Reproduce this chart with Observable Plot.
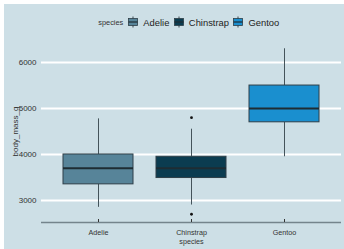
<!DOCTYPE html>
<html>
<head>
<meta charset="utf-8">
<script src="https://cdn.jsdelivr.net/npm/d3@7"></script>
<script src="https://cdn.jsdelivr.net/npm/@observablehq/plot@0.6"></script>
<style>
  html, body { margin: 0; padding: 0; background: #ffffff; }
  body { width: 344px; height: 249px; overflow: hidden; }
  #wrap { position: absolute; left: 4px; top: 4px; width: 340px; height: 245px; background: #cddfe6;
          font-family: "Liberation Sans", Arial, Helvetica, sans-serif; }
  #legend { height: 31px; margin-left: 37px; width: 300px; display: flex; justify-content: center; align-items: center;
            padding-top: 5px; box-sizing: border-box; color: #222; }
  #legend .title { font-size: 7.4px; margin-right: 5px; color: #333; }
  #legend .key { width: 10px; height: 12px; margin-right: 5px; }
  #legend .lab { font-size: 9.4px; margin-right: 4.5px; }
  svg.plot { display: block; }
</style>
</head>
<body>
<div id="wrap">
  <div id="legend"></div>
  <div id="chart"></div>
</div>
<script>
const species   = ["Adelie", "Chinstrap", "Gentoo"];
const q1        = [3350, 3487.5, 4700];
const median    = [3700, 3700, 5000];
const q3        = [4000, 3950, 5500];
const whiskLo   = [2850, 2900, 3950];
const whiskHi   = [4775, 4550, 6300];
const outlierSpecies = ["Chinstrap", "Chinstrap"];
const outlierValues  = [4800, 2700];
const yTicks    = [3000, 4000, 5000, 6000];
const colors    = ["#578499", "#0b3c50", "#1a8fcf"];

const boxes = species.map((s, i) => ({species: s, q1: q1[i], median: median[i], q3: q3[i], lo: whiskLo[i], hi: whiskHi[i]}));
const outliers = outlierSpecies.map((s, i) => ({species: s, value: outlierValues[i]}));

// ggplot-style 5% expansion of the data range
const allVals = [...whiskLo, ...whiskHi, ...outlierValues];
const vmin = d3.min(allVals), vmax = d3.max(allVals);
const pad = 0.05 * (vmax - vmin);
const yDomain = [vmin - pad, vmax + pad];

// legend
const legend = document.getElementById("legend");
legend.innerHTML = `<span class="title">species</span>` + species.map((s, i) => `
  <svg class="key" viewBox="0 0 10 12" width="10" height="12">
    <line x1="5" x2="5" y1="0.5" y2="11.5" stroke="#3d4a50" stroke-width="1"/>
    <rect x="0.5" y="2.5" width="9" height="7" fill="${colors[i]}" stroke="#2f3f48" stroke-width="0.8"/>
    <line x1="0.5" x2="9.5" y1="6" y2="6" stroke="#1e2c33" stroke-width="1.2"/>
  </svg><span class="lab">${s}</span>`).join("");

const chart = Plot.plot({
  width: 340,
  height: 214,
  marginLeft: 37,
  marginRight: 3,
  marginTop: 5,
  marginBottom: 27,
  style: {background: "transparent", fontFamily: "Liberation Sans, Arial, sans-serif", color: "#333333"},
  x: {domain: species, type: "band", paddingInner: 0.25, paddingOuter: 0.225},
  y: {domain: yDomain},
  color: {domain: species, range: colors},
  marks: [
    Plot.ruleY(yTicks, {stroke: "#ffffff", strokeWidth: 2}),
    Plot.ruleY([yDomain[0]], {stroke: "#74848c", strokeWidth: 1.5}),
    Plot.axisY({ticks: yTicks, tickSize: 0, tickPadding: 5, fontSize: 8, tickFormat: d3.format("d"),
                label: "body_mass_g", labelAnchor: "center", labelArrow: "none", labelOffset: 29}),
    Plot.axisX({tickSize: -3, tickPadding: 10.5, fontSize: 7.2, stroke: "#333",
                label: "species", labelAnchor: "center", labelArrow: "none", labelOffset: 21}),
    Plot.ruleX(boxes, {x: "species", y1: "lo", y2: "q1", stroke: "#44535a", strokeWidth: 1}),
    Plot.ruleX(boxes, {x: "species", y1: "q3", y2: "hi", stroke: "#44535a", strokeWidth: 1}),
    Plot.barY(boxes, {x: "species", y1: "q1", y2: "q3", fill: "species", stroke: "#2f3f48", strokeWidth: 1}),
    Plot.tickY(boxes, {x: "species", y: "median", stroke: "#1e2c33", strokeWidth: 2}),
    Plot.dot(outliers, {x: "species", y: "value", r: 1.4, fill: "#111", stroke: null})
  ]
});
document.getElementById("chart").appendChild(chart);
</script>
</body>
</html>
